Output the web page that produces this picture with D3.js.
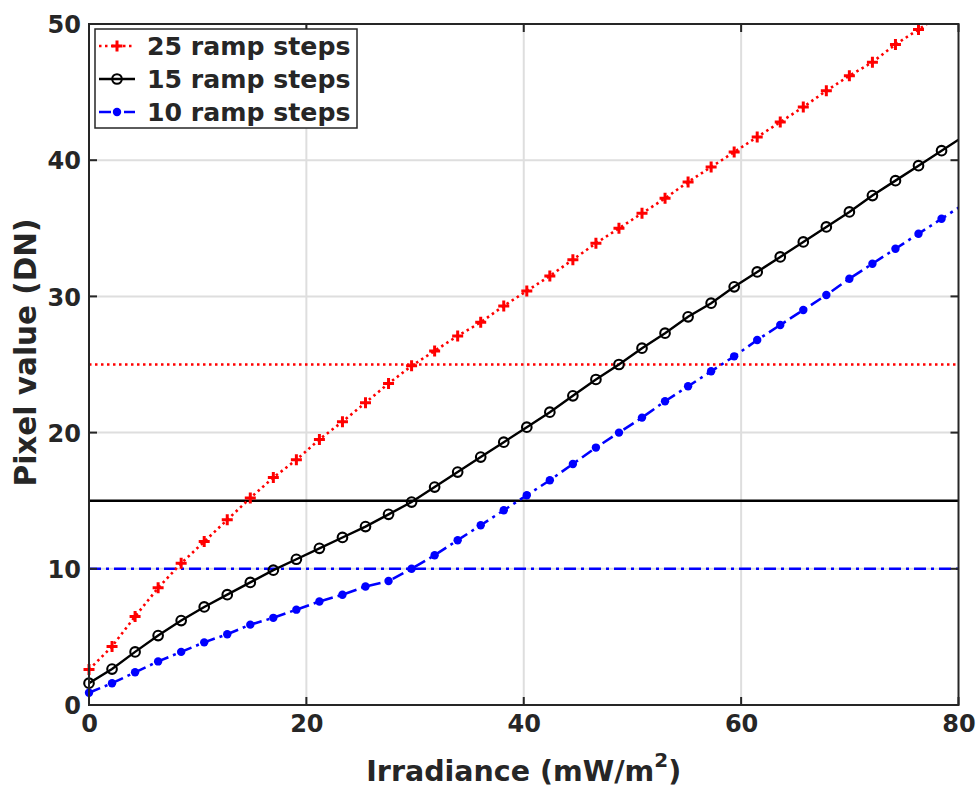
<!DOCTYPE html>
<html>
<head>
<meta charset="utf-8">
<script src="https://cdn.jsdelivr.net/npm/d3@7"></script>
<style>
  html, body { margin: 0; padding: 0; background: #fff; }
  svg { display: block; }
  text { font-family: "DejaVu Sans", sans-serif; font-weight: bold; fill: #262626; }
</style>
</head>
<body>
<svg id="chart" width="978" height="787"></svg>
<script>
// ---- data ----
const irradiance = [0, 2.12, 4.24, 6.36, 8.48, 10.6, 12.72, 14.84, 16.96, 19.08, 21.2, 23.32, 25.44, 27.56, 29.68, 31.8, 33.92, 36.04, 38.16, 40.28, 42.4, 44.52, 46.64, 48.76, 50.88, 53.0, 55.12, 57.24, 59.36, 61.48, 63.6, 65.72, 67.84, 69.96, 72.08, 74.2, 76.32, 78.44, 80.56];
const steps25 = [2.6, 4.3, 6.5, 8.6, 10.4, 12.0, 13.6, 15.2, 16.7, 18.0, 19.5, 20.8, 22.2, 23.6, 24.9, 26.0, 27.1, 28.1, 29.3, 30.4, 31.5, 32.7, 33.9, 35.0, 36.1, 37.2, 38.4, 39.5, 40.6, 41.7, 42.8, 43.9, 45.1, 46.2, 47.2, 48.5, 49.6, 50.7, 51.8];
const steps15 = [1.6, 2.64, 3.9, 5.1, 6.2, 7.2, 8.1, 9.0, 9.9, 10.7, 11.5, 12.3, 13.1, 14.0, 14.9, 16.0, 17.1, 18.2, 19.3, 20.4, 21.5, 22.7, 23.9, 25.0, 26.2, 27.3, 28.5, 29.5, 30.7, 31.8, 32.9, 34.0, 35.1, 36.2, 37.4, 38.5, 39.6, 40.7, 41.8];
const steps10 = [0.9, 1.6, 2.4, 3.2, 3.9, 4.6, 5.2, 5.9, 6.4, 7.0, 7.6, 8.1, 8.7, 9.1, 10.0, 11.0, 12.1, 13.2, 14.3, 15.4, 16.5, 17.7, 18.9, 20.0, 21.1, 22.3, 23.4, 24.5, 25.6, 26.8, 27.9, 29.0, 30.1, 31.3, 32.4, 33.5, 34.6, 35.7, 36.8];
const seriesNames = ["25 ramp steps", "15 ramp steps", "10 ramp steps"];
const thresholds = [25, 15, 10];
const xTicks = [0, 20, 40, 60, 80];
const yTicks = [0, 10, 20, 30, 40, 50];

// ---- styles ----
const styles = [
  { color: "#ff0000", dash: "2.5,3.5", width: 2.6, marker: "plus" },
  { color: "#000000", dash: null, width: 2.4, marker: "circle" },
  { color: "#0000ff", dash: "12,5,3,5", width: 2.6, marker: "dot" }
];
const seriesValues = [steps25, steps15, steps10];

const svg = d3.select("#chart");
const L = 89, R = 958.5, T = 24, B = 705;
const x = d3.scaleLinear().domain([0, 80]).range([L, R]);
const y = d3.scaleLinear().domain([0, 50]).range([B, T]);
const axisColor = "#262626";

svg.append("defs").append("clipPath").attr("id", "plotclip")
  .append("rect").attr("x", L).attr("y", T).attr("width", R - L).attr("height", B - T);

// grid
const grid = svg.append("g");
grid.selectAll("line.gx").data(xTicks.filter(d => d > 0 && d < 80)).join("line")
  .attr("x1", d => x(d)).attr("x2", d => x(d)).attr("y1", T).attr("y2", B)
  .attr("stroke", "#dedede").attr("stroke-width", 2);
grid.selectAll("line.gy").data(yTicks.filter(d => d > 0 && d < 50)).join("line")
  .attr("y1", d => y(d)).attr("y2", d => y(d)).attr("x1", L).attr("x2", R)
  .attr("stroke", "#dedede").attr("stroke-width", 2);

// threshold lines
const plot = svg.append("g").attr("clip-path", "url(#plotclip)");
thresholds.forEach((t, i) => {
  const s = styles[i];
  plot.append("line")
    .attr("x1", x(0)).attr("x2", x(80)).attr("y1", y(t)).attr("y2", y(t))
    .attr("stroke", s.color).attr("stroke-width", s.width)
    .attr("stroke-dasharray", s.dash);
});

// series lines
const lineGen = d3.line().x((d, i) => x(irradiance[i])).y(d => y(d));
seriesValues.forEach((vals, k) => {
  const s = styles[k];
  plot.append("path").datum(vals)
    .attr("d", lineGen)
    .attr("fill", "none")
    .attr("stroke", s.color).attr("stroke-width", s.width)
    .attr("stroke-dasharray", s.dash);
});

function drawMarker(g, type, cx, cy, color) {
  if (type === "plus") {
    const r = 5.5;
    g.append("path").attr("d", `M${cx - r},${cy}H${cx + r}M${cx},${cy - r}V${cy + r}`)
      .attr("stroke", color).attr("stroke-width", 3).attr("fill", "none");
  } else if (type === "circle") {
    g.append("circle").attr("cx", cx).attr("cy", cy).attr("r", 4.8)
      .attr("fill", "none").attr("stroke", color).attr("stroke-width", 2.1);
  } else {
    g.append("circle").attr("cx", cx).attr("cy", cy).attr("r", 4.2)
      .attr("fill", color).attr("stroke", "none");
  }
}

// markers (only those inside the axes limits)
const markers = svg.append("g");
seriesValues.forEach((vals, k) => {
  vals.forEach((v, i) => {
    const xv = irradiance[i];
    if (xv >= 0 && xv <= 80 && v >= 0 && v <= 50) {
      drawMarker(markers, styles[k].marker, x(xv), y(v), styles[k].color);
    }
  });
});

// axes box
svg.append("rect").attr("x", L).attr("y", T).attr("width", R - L).attr("height", B - T)
  .attr("fill", "none").attr("stroke", axisColor).attr("stroke-width", 2);

// ticks (inward) on all four sides
const tk = 8;
const ticks = svg.append("g").attr("stroke", axisColor).attr("stroke-width", 2);
xTicks.forEach(d => {
  ticks.append("line").attr("x1", x(d)).attr("x2", x(d)).attr("y1", B).attr("y2", B - tk);
  ticks.append("line").attr("x1", x(d)).attr("x2", x(d)).attr("y1", T).attr("y2", T + tk);
});
yTicks.forEach(d => {
  ticks.append("line").attr("y1", y(d)).attr("y2", y(d)).attr("x1", L).attr("x2", L + tk);
  ticks.append("line").attr("y1", y(d)).attr("y2", y(d)).attr("x1", R).attr("x2", R - tk);
});

// tick labels via d3 axes (styled)
const xAxis = svg.append("g").attr("transform", `translate(0,${B})`)
  .call(d3.axisBottom(x).tickValues(xTicks).tickSize(0).tickPadding(10).tickFormat(d3.format("d")));
xAxis.select(".domain").remove();
xAxis.selectAll("text").attr("font-size", 24).attr("font-family", "DejaVu Sans").attr("font-weight", "bold").attr("fill", axisColor).attr("dy", "0.72em");

const yAxis = svg.append("g").attr("transform", `translate(${L},0)`)
  .call(d3.axisLeft(y).tickValues(yTicks).tickSize(0).tickPadding(8).tickFormat(d3.format("d")));
yAxis.select(".domain").remove();
yAxis.selectAll("text").attr("font-size", 24).attr("font-family", "DejaVu Sans").attr("font-weight", "bold").attr("fill", axisColor).attr("dy", "0.36em");

// axis titles
const xt = svg.append("text").attr("x", (L + R) / 2).attr("y", 781).attr("text-anchor", "middle")
  .attr("font-size", 28.5);
xt.append("tspan").text("Irradiance (mW/m");
xt.append("tspan").attr("font-size", 20).attr("dy", -14).text("2");
xt.append("tspan").attr("dy", 14).text(")");

svg.append("text").attr("transform", `translate(36,${(T + B) / 2 - 12}) rotate(-90)`)
  .attr("text-anchor", "middle").attr("font-size", 29.5).text("Pixel value (DN)");

// legend
const lg = svg.append("g");
lg.append("rect").attr("x", 95).attr("y", 29).attr("width", 262).attr("height", 99)
  .attr("fill", "#fff").attr("stroke", axisColor).attr("stroke-width", 1.5);
const rowsY = [46, 79, 112];
seriesNames.forEach((name, k) => {
  const s = styles[k];
  lg.append("line").attr("x1", 99).attr("x2", 135).attr("y1", rowsY[k]).attr("y2", rowsY[k])
    .attr("stroke", s.color).attr("stroke-width", s.width).attr("stroke-dasharray", s.dash);
  drawMarker(lg, s.marker, 117, rowsY[k], s.color);
  lg.append("text").attr("x", 147).attr("y", rowsY[k] + 9).attr("font-size", 25.2)
    .attr("fill", "#000").text(name);
});
</script>
</body>
</html>
